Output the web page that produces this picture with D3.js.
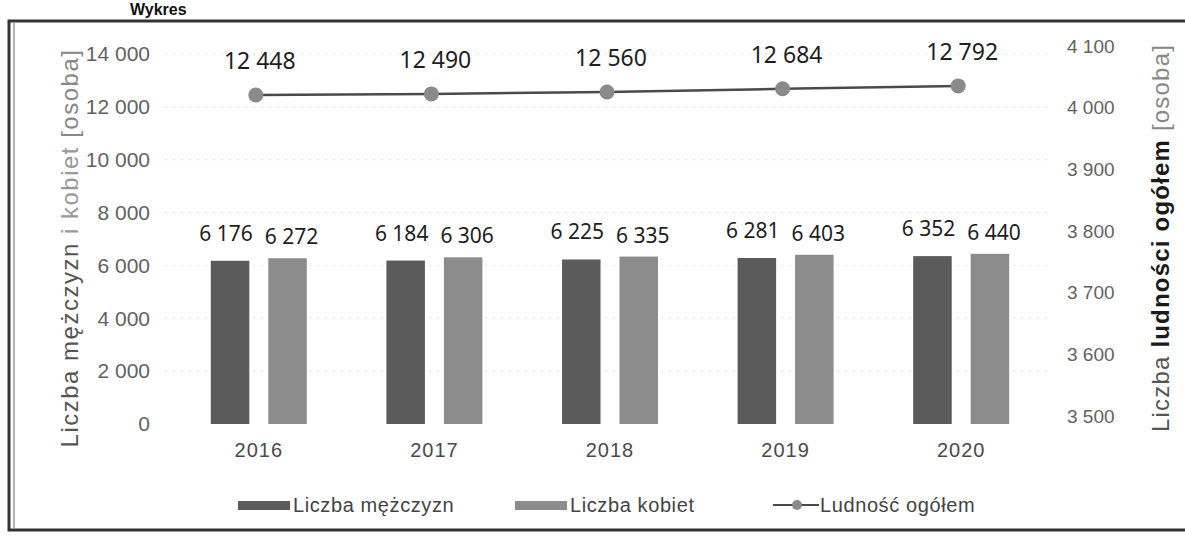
<!DOCTYPE html>
<html>
<head>
<meta charset="utf-8">
<script src="https://cdn.jsdelivr.net/npm/d3@7"></script>
<style>
    body { margin: 0; background: #fff; }
    svg { display: block; }
</style>
</head>
<body>
<div id="graph"></div>
<script>
"use strict";

// values
const years = ["2016", "2017", "2018", "2019", "2020"];
const men = [6176, 6184, 6225, 6281, 6352];
const women = [6272, 6306, 6335, 6403, 6440];
const total = [12448, 12490, 12560, 12684, 12792];
const leftTicks = [0, 2000, 4000, 6000, 8000, 10000, 12000, 14000];
const rightTicks = [3500, 3600, 3700, 3800, 3900, 4000, 4100];
const seriesNames = ["Liczba mężczyzn", "Liczba kobiet", "Ludność ogółem"];

(function() {
    const svgSize = {
        width : 1185,
        height: 538,
    }
    const plot = { left: 171, right: 1049, top: 54, bottom: 424 };
    const colors = { men: "#5b5b5b", women: "#8c8c8c", line: "#4a4a4a", dot: "#8a8a8a" };

    const pl = d3.formatLocale({ decimal: ",", thousands: " ", grouping: [3], currency: ["", " zł"] });
    const fmt = pl.format(",d");

    window.addEventListener("load", init);

    function init() {
        let svg = d3.select("#graph")
            .append("svg")
                .attr("width", svgSize.width)
                .attr("height", svgSize.height);

        svg.append("rect")
            .attr("width", svgSize.width)
            .attr("height", svgSize.height)
            .attr("fill", "#fff");

        // heading above the frame (mostly cropped in the scan)
        svg.append("text")
            .attr("x", 130)
            .attr("y", 15)
            .style("font", "bold 16px 'Liberation Sans', Arial, sans-serif")
            .attr("fill", "#111")
            .text("Wykres");

        // frame
        svg.append("rect")
            .attr("x", 9)
            .attr("y", 21)
            .attr("width", 1200)
            .attr("height", 509)
            .attr("fill", "none")
            .attr("stroke", "#333")
            .attr("stroke-width", 3);
        svg.append("line")
            .attr("x1", 14).attr("x2", 14)
            .attr("y1", 23).attr("y2", 528)
            .attr("stroke", "#666")
            .attr("stroke-width", 1);

        let xScale = d3.scaleBand()
            .domain(years)
            .range([plot.left, plot.right]);
        let inner = d3.scaleBand()
            .domain(["m", "w"])
            .range([-48, 48])
            .paddingInner(0.33);
        let yScale = d3.scaleLinear()
            .domain([0, 14000])
            .range([plot.bottom, plot.top]);
        let yRight = d3.scaleLinear()
            .domain([3500, 4100])
            .range([plot.bottom - 8, plot.top - 8]);

        let rows = years.map((y, i) => ({ year: y, men: men[i], women: women[i], total: total[i] }));
        let cx = (d) => xScale(d.year) + xScale.bandwidth() / 2;

        // faint dotted gridlines
        svg.append("g")
            .selectAll("line")
            .data(leftTicks.slice(1))
            .enter()
            .append("line")
                .attr("x1", 165)
                .attr("x2", 1050)
                .attr("y1", (d) => yScale(d))
                .attr("y2", (d) => yScale(d))
                .attr("stroke", "#dcdcdc")
                .attr("stroke-dasharray", "2,6");

        // left axis
        let gl = svg.append("g")
            .attr("transform", "translate(150,0)")
            .call(d3.axisLeft(yScale).tickValues(leftTicks).tickFormat(fmt).tickSize(0).tickPadding(0));
        gl.select(".domain").remove();
        gl.selectAll("text")
            .style("font", "21px 'Liberation Sans', Arial, sans-serif")
            .attr("fill", "#626262");

        // right axis
        let gr = svg.append("g")
            .attr("transform", "translate(1067,0)")
            .call(d3.axisRight(yRight).tickValues(rightTicks).tickFormat(fmt).tickSize(0).tickPadding(0));
        gr.select(".domain").remove();
        gr.selectAll("text")
            .style("font", "19px 'Liberation Sans', Arial, sans-serif")
            .attr("fill", "#626262");

        // x axis
        let gx = svg.append("g")
            .attr("transform", "translate(0," + plot.bottom + ")")
            .call(d3.axisBottom(xScale).tickSize(0).tickPadding(19));
        gx.select(".domain").remove();
        gx.selectAll("text")
            .style("font", "20px 'Liberation Sans', Arial, sans-serif")
            .style("letter-spacing", "1px")
            .attr("fill", "#4a4a4a");

        // bars
        svg.append("g")
            .selectAll("rect")
            .data(rows)
            .enter()
            .append("rect")
                .attr("x", (d) => cx(d) + inner("m"))
                .attr("y", (d) => yScale(d.men))
                .attr("width", inner.bandwidth())
                .attr("height", (d) => yScale(0) - yScale(d.men))
                .attr("fill", colors.men);
        svg.append("g")
            .selectAll("rect")
            .data(rows)
            .enter()
            .append("rect")
                .attr("x", (d) => cx(d) + inner("w"))
                .attr("y", (d) => yScale(d.women))
                .attr("width", inner.bandwidth())
                .attr("height", (d) => yScale(0) - yScale(d.women))
                .attr("fill", colors.women);

        // bar labels
        let labelFont = "21px 'Noto Sans', 'Open Sans', sans-serif";
        svg.append("g")
            .selectAll("text")
            .data(rows)
            .enter()
            .append("text")
                .attr("x", (d) => cx(d) + inner("m") + inner.bandwidth() / 2 - 4)
                .attr("y", (d) => yScale(d.men) - 20)
                .attr("text-anchor", "middle")
                .style("font", labelFont)
                .attr("fill", "#1e1e1e")
                .text((d) => fmt(d.men));
        svg.append("g")
            .selectAll("text")
            .data(rows)
            .enter()
            .append("text")
                .attr("x", (d) => cx(d) + inner("w") + inner.bandwidth() / 2 + 4)
                .attr("y", (d) => yScale(d.women) - 14)
                .attr("text-anchor", "middle")
                .style("font", labelFont)
                .attr("fill", "#1e1e1e")
                .text((d) => fmt(d.women));

        // total population line
        let line = d3.line()
            .x((d) => cx(d) - 3)
            .y((d) => yScale(d.total));
        svg.append("path")
            .datum(rows)
            .attr("d", line)
            .attr("fill", "none")
            .attr("stroke", colors.line)
            .attr("stroke-width", 2.5);
        svg.append("g")
            .selectAll("circle")
            .data(rows)
            .enter()
            .append("circle")
                .attr("cx", (d) => cx(d) - 3)
                .attr("cy", (d) => yScale(d.total))
                .attr("r", 7.5)
                .attr("fill", colors.dot);
        svg.append("g")
            .selectAll("text")
            .data(rows)
            .enter()
            .append("text")
                .attr("x", (d) => cx(d) + 1)
                .attr("y", (d) => yScale(d.total) - 26)
                .attr("text-anchor", "middle")
                .style("font", "23px 'Noto Sans', 'Open Sans', sans-serif")
                .attr("fill", "#1e1e1e")
                .text((d) => fmt(d.total));

        // axis titles
        let lt = svg.append("text")
            .attr("transform", "translate(78,248) rotate(-90)")
            .attr("text-anchor", "middle")
            .style("font", "24px 'Liberation Sans', Arial, sans-serif")
            .style("letter-spacing", "1.5px")
            .attr("fill", "#555");
        lt.append("tspan").text("Liczba mężczyzn ");
        lt.append("tspan").attr("fill", "#999").text("i kobiet ");
        lt.append("tspan").attr("fill", "#888").text("[osoba]");

        let rt = svg.append("text")
            .attr("transform", "translate(1169,238) rotate(-90)")
            .attr("text-anchor", "middle")
            .style("font", "24px 'Liberation Sans', Arial, sans-serif")
            .style("letter-spacing", "1.2px")
            .attr("fill", "#555");
        rt.append("tspan").text("Liczba ");
        rt.append("tspan").attr("font-weight", "bold").attr("fill", "#1a1a1a").text("ludności ogółem ");
        rt.append("tspan").attr("fill", "#888").text("[osoba]");

        drawLegend(svg);
    }

    function drawLegend(svg) {
        let ly = 505;
        let legendFont = "20px 'Liberation Sans', Arial, sans-serif";
        let items = [
            { x: 238, kind: "bar", color: colors.men, name: seriesNames[0] },
            { x: 515, kind: "bar", color: colors.women, name: seriesNames[1] },
            { x: 773, kind: "line", color: colors.line, name: seriesNames[2] },
        ];
        let g = svg.append("g");
        items.forEach((it) => {
            if (it.kind === "bar") {
                g.append("rect")
                    .attr("x", it.x)
                    .attr("y", ly - 4)
                    .attr("width", 52)
                    .attr("height", 9)
                    .attr("fill", it.color);
            } else {
                g.append("line")
                    .attr("x1", it.x).attr("x2", it.x + 46)
                    .attr("y1", ly).attr("y2", ly)
                    .attr("stroke", it.color)
                    .attr("stroke-width", 2);
                g.append("circle")
                    .attr("cx", it.x + 24)
                    .attr("cy", ly)
                    .attr("r", 5)
                    .attr("fill", colors.dot);
            }
            g.append("text")
                .attr("x", it.x + (it.kind === "bar" ? 55 : 47))
                .attr("y", ly + 7)
                .style("font", legendFont)
                .style("letter-spacing", "0.6px")
                .attr("fill", "#444")
                .text(it.name);
        });
    }
})();
</script>
</body>
</html>
